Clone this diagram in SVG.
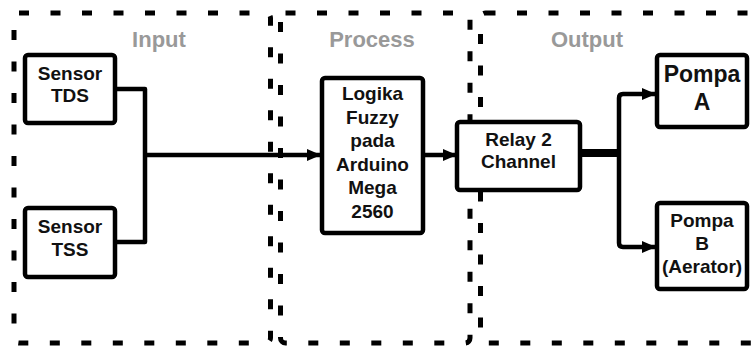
<svg xmlns="http://www.w3.org/2000/svg" width="753" height="351" viewBox="0 0 753 351">
<style>
.cont{fill:none;stroke:#000;stroke-width:5;stroke-dasharray:10 21.5}
.box{fill:#fff;stroke:#000;stroke-width:4.5}
.t{font-family:"Liberation Sans",Arial,sans-serif;font-weight:bold;font-size:19px;fill:#111;text-anchor:middle}
.big{font-size:23px}
.lbl{font-family:"Liberation Sans",Arial,sans-serif;font-weight:bold;font-size:22px;fill:#999;text-anchor:middle}
.ln{fill:none;stroke:#000;stroke-width:4.5;stroke-linejoin:round}
</style>
<defs>
<marker id="ah" viewBox="0 0 14 12" refX="13" refY="6" markerWidth="14" markerHeight="12" markerUnits="userSpaceOnUse" orient="auto">
<path d="M0,0 L14,6 L0,12 z" fill="#000"/>
</marker>
</defs>
<rect width="753" height="351" fill="#fff"/>
<g id="containers">
<g id="input-group"><rect class="cont" x="14" y="13" width="256.5" height="330" rx="5"/><text class="lbl" x="159" y="47">Input</text></g>
<g id="process-group"><rect class="cont" x="280.5" y="13" width="189.5" height="330" rx="5"/><text class="lbl" x="372" y="47">Process</text></g>
<g id="output-group"><rect class="cont" x="480.5" y="13" width="290" height="330" rx="5"/><text class="lbl" x="587" y="47">Output</text></g>
</g>
<g id="connectors">
<path class="ln" d="M115,89 H145 V242 H115"/>
<path class="ln" d="M145,155 H320" marker-end="url(#ah)"/>
<path class="ln" d="M423,155 H456" marker-end="url(#ah)"/>
<path fill="none" stroke="#000" stroke-width="8" d="M580,153 H619"/>
<path class="ln" d="M619,153 V98 Q619,94 623,94 H655" marker-end="url(#ah)"/>
<path class="ln" d="M619,153 V243 Q619,247 623,247 H655" marker-end="url(#ah)"/>
</g>
<g id="sensor-tds"><rect class="box" x="25" y="55" width="90" height="68" rx="3"/><text class="t" x="70" y="80">Sensor</text><text class="t" x="70" y="102">TDS</text></g>
<g id="sensor-tss"><rect class="box" x="25" y="208" width="90" height="69" rx="3"/><text class="t" x="70" y="233">Sensor</text><text class="t" x="70" y="256">TSS</text></g>
<g id="logika"><rect class="box" x="322" y="78" width="101" height="155" rx="3"/>
<text class="t" x="372.5" y="100">Logika</text><text class="t" x="372.5" y="124">Fuzzy</text><text class="t" x="372.5" y="147">pada</text><text class="t" x="372.5" y="171">Arduino</text><text class="t" x="372.5" y="194">Mega</text><text class="t" x="372.5" y="218">2560</text></g>
<g id="relay"><rect class="box" x="457" y="122" width="123" height="68" rx="3"/><text class="t" x="518.5" y="146">Relay 2</text><text class="t" x="518.5" y="168">Channel</text></g>
<g id="pompa-a"><rect class="box" x="657" y="55" width="90" height="72" rx="3"/><text class="t big" x="702" y="82">Pompa</text><text class="t big" x="702" y="110">A</text></g>
<g id="pompa-b"><rect class="box" x="657" y="203" width="90" height="86" rx="3"/><text class="t" x="702" y="227">Pompa</text><text class="t" x="702" y="250">B</text><text class="t" x="702" y="273">(Aerator)</text></g>
</svg>
